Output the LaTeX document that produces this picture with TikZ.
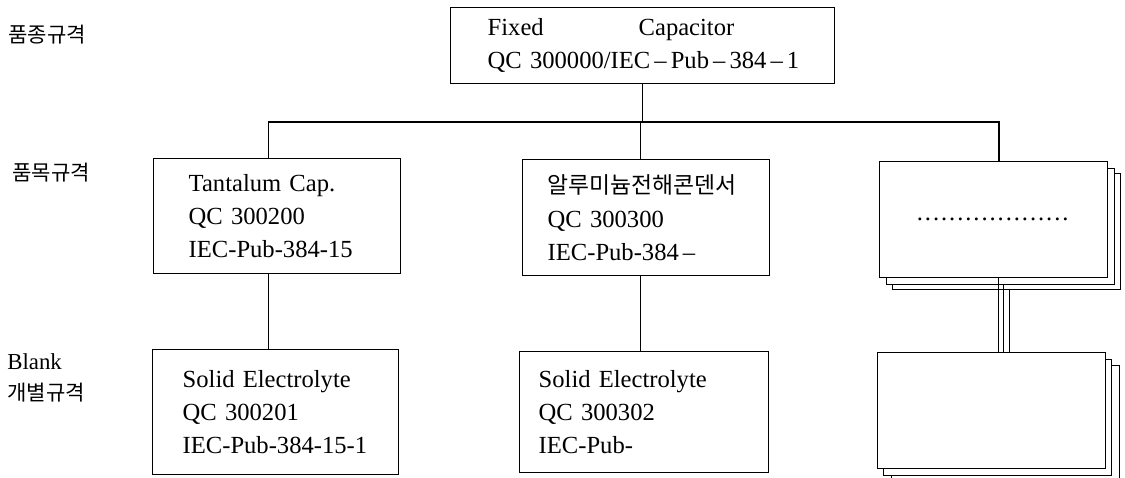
\documentclass[tikz,border=0pt]{standalone}
\usepackage{fontspec}
\setmainfont{Liberation Serif}
\newfontfamily\kr{Noto Sans CJK KR}
\usetikzlibrary{positioning}

\begin{document}
\begin{tikzpicture}[x=0.02cm, y=-0.02cm,
        spec/.style={draw=black, fill=white, anchor=north west, align=left, inner ysep=0pt, line width=0.8pt, font=\fontsize{14}{19}\selectfont},
        sheet/.style={draw=black, fill=white, anchor=north west, minimum width=4.56cm, minimum height=2.32cm, line width=0.8pt},
        level/.style={anchor=west, inner sep=0pt, font=\fontsize{12}{15}\selectfont},
        link/.style={line width=0.8pt}
    ]
    \useasboundingbox (0,0) rectangle (1125,477);
    % level labels
    \node[level] (lvlfamily) at (8,35) {\kr 품종규격};
    \node[level] (lvlitem) at (12,173) {\kr 품목규격};
    \node[level, font=\fontsize{13}{15}\selectfont] (lvlblank) at (7,362) {Blank};
    \node[level] (lvldetail) at (7,393) {\kr 개별규격};
    % family spec
    \node[spec, text width=6.5cm, inner xsep=0.59cm, minimum height=1.52cm] (fixed) at (450,7)
        {\hspace{0.15cm}\makebox[3.02cm][l]{Fixed}Capacitor\\\hspace{0.15cm}QC 300000/IEC\,--\,Pub\,--\,384\,--\,1};
    % item specs
    \node[spec, text width=3.54cm, inner xsep=0.70cm, minimum height=2.30cm] (tant) at (153,158)
        {Tantalum Cap.\\QC 300200\\IEC-Pub-384-15};
    \node[spec, text width=3.94cm, inner xsep=0.50cm, minimum height=2.32cm] (alu) at (522,159)
        {{\kr\fontsize{13}{19}\selectfont 알루미늄전해콘덴서}\\QC 300300\\IEC-Pub-384\,--};
    \node[sheet] (misc3) at (892,173) {};
    \node[sheet] (misc2) at (886,168) {};
    \node[sheet, font=\fontsize{14}{19}\selectfont] (misc1) at (879,161) {\foreach \k in {1,...,19}{.\kern1.1pt}};
    % blank detail specs
    \node[spec, text width=3.72cm, inner xsep=0.60cm, minimum height=2.50cm] (solid1) at (152,349)
        {Solid Electrolyte\\QC 300201\\IEC-Pub-384-15-1};
    \node[spec, text width=4.22cm, inner xsep=0.38cm, minimum height=2.42cm] (solid2) at (519,351)
        {Solid Electrolyte\\QC 300302\\IEC-Pub-};
    \node[sheet] (blank3) at (891,365) {};
    \node[sheet] (blank2) at (883,359) {};
    \node[sheet] (blank1) at (877,352) {};
    % tree
    \coordinate (bus) at (642,122);
    \draw[link] (fixed.south) -- (fixed.south |- bus);
    \draw[link] ([xshift=-0.17cm]tant.north) |- ([xshift=0.11cm]misc1.north |- bus) -- ([xshift=0.11cm]misc1.north);
    \draw[link] ([xshift=-0.11cm]alu.north) -- ([xshift=-0.11cm]alu.north |- bus);
    \draw[link] ([xshift=-0.17cm]tant.south) -- ([xshift=-0.17cm]tant.south |- solid1.north);
    \draw[link] ([xshift=-0.11cm]alu.south) -- ([xshift=-0.11cm]alu.south |- solid2.north);
    \draw[link] ([xshift=0.10cm]misc1.south) -- ([xshift=0.10cm]misc1.south |- blank1.north);
    \draw[link] ([xshift=0.06cm]misc2.south) -- ([xshift=0.06cm]misc2.south |- blank1.north);
    \draw[link] ([xshift=0.06cm]misc3.south) -- ([xshift=0.06cm]misc3.south |- blank1.north);
\end{tikzpicture}
\end{document}
